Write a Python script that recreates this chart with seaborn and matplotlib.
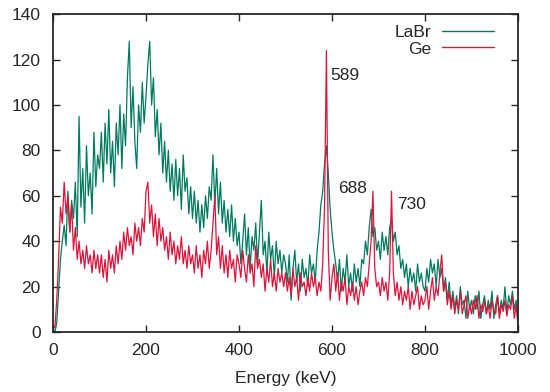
import numpy as np
import pandas as pd
import matplotlib
matplotlib.use("Agg")
import matplotlib.pyplot as plt
import seaborn as sns

# energy grid (keV), 4 keV bins
energy = np.arange(0, 1001, 4)

# LaBr spectrum, counts (100 keV per row)
labr = [
    1, 0, 4, 18, 32, 40, 47, 38, 62, 44, 58, 50, 66, 42, 95, 55, 72, 48, 82, 60, 70, 52, 88, 64, 78,
    72, 88, 66, 92, 74, 98, 70, 84, 64, 92, 78, 100, 72, 96, 82, 112, 128, 90, 108, 84, 72, 100, 88, 110, 92,
    104, 118, 128, 100, 112, 86, 98, 78, 92, 70, 84, 66, 80, 62, 74, 58, 76, 60, 72, 54, 78, 62, 68, 52, 64,
    50, 62, 48, 58, 44, 56, 46, 60, 50, 64, 58, 78, 56, 72, 52, 66, 48, 58, 44, 54, 42, 56, 40, 50, 38,
    44, 30, 40, 52, 34, 46, 28, 42, 36, 48, 30, 44, 58, 34, 40, 26, 44, 32, 38, 24, 40, 30, 36, 26, 34,
    30, 22, 34, 14, 28, 36, 22, 30, 18, 32, 24, 28, 20, 34, 26, 30, 22, 36, 44, 56, 62, 74, 82, 70, 54,
    44, 36, 30, 22, 32, 18, 28, 22, 34, 20, 26, 18, 30, 22, 28, 20, 32, 30, 40, 34, 46, 54, 42, 46, 36,
    40, 32, 44, 36, 42, 34, 46, 50, 40, 44, 34, 38, 28, 32, 24, 30, 20, 28, 22, 26, 18, 30, 22, 26, 20,
    18, 28, 22, 32, 26, 30, 20, 32, 24, 28, 18, 24, 14, 22, 12, 18, 10, 16, 8, 20, 12, 14, 6, 18, 10,
    14, 8, 16, 10, 18, 6, 12, 16, 8, 14, 10, 18, 6, 12, 16, 8, 14, 10, 20, 8, 16, 12, 18, 10, 14,
    2,
]

# Ge spectrum
ge = [
    3, 2, 14, 32, 55, 48, 66, 52, 60, 44, 56, 36, 46, 32, 40, 30, 36, 28, 38, 30, 34, 26, 36, 28, 34,
    26, 34, 24, 32, 22, 36, 28, 34, 26, 38, 30, 40, 32, 44, 36, 46, 38, 42, 34, 48, 40, 46, 38, 50, 44,
    62, 66, 48, 56, 42, 52, 38, 50, 40, 46, 36, 42, 32, 44, 34, 40, 30, 38, 32, 42, 30, 36, 28, 38, 30,
    34, 26, 38, 28, 34, 24, 36, 30, 40, 28, 36, 48, 60, 34, 42, 28, 38, 26, 34, 24, 36, 28, 32, 22, 34,
    30, 24, 36, 28, 22, 34, 26, 30, 20, 38, 28, 32, 24, 30, 18, 28, 22, 32, 20, 26, 18, 28, 22, 26, 20,
    26, 18, 24, 16, 28, 20, 24, 14, 26, 20, 22, 16, 24, 18, 26, 20, 24, 16, 22, 18, 30, 56, 124, 36, 14,
    24, 30, 18, 26, 14, 22, 18, 24, 12, 20, 16, 22, 14, 20, 12, 18, 22, 16, 24, 20, 30, 40, 62, 28, 20,
    22, 16, 24, 18, 22, 14, 26, 62, 26, 16, 22, 14, 20, 12, 18, 14, 20, 10, 18, 12, 16, 20, 10, 16, 12,
    14, 20, 10, 18, 24, 14, 20, 16, 26, 34, 18, 22, 12, 18, 10, 16, 8, 14, 10, 18, 8, 12, 16, 6, 12,
    8, 14, 10, 16, 6, 12, 9, 14, 8, 12, 6, 14, 10, 8, 16, 6, 12, 9, 14, 7, 12, 10, 16, 6, 12,
    4,
]

peak_labels = ["589", "688", "730"]
peak_text_pos = [(596, 113, "left"), (675, 63, "right"), (740, 56, "left")]

df = pd.DataFrame({
    "Energy (keV)": np.concatenate([energy, energy]),
    "counts": labr + ge,
    "det": ["LaBr"] * len(labr) + ["Ge"] * len(ge),
})

sns.set_style("ticks")
plt.rcParams["font.family"] = ["Liberation Sans", "DejaVu Sans"]
fs = 12.5

fig = plt.figure(figsize=(5.5, 3.92), dpi=100)
ax = fig.add_axes([0.0964, 0.153, 0.8454, 0.811])

sns.lineplot(data=df, x="Energy (keV)", y="counts", hue="det",
             palette={"LaBr": "#007a5e", "Ge": "#dc143c"},
             linewidth=0.9, ax=ax, estimator=None, sort=False)

for lab, (x, y, ha) in zip(peak_labels, peak_text_pos):
    ax.text(x, y, lab, ha=ha, va="center", fontsize=fs)

ax.set_xlim(0, 1000)
ax.set_ylim(0, 140)
ax.set_xticks(range(0, 1001, 200))
ax.set_yticks(range(0, 141, 20))
ax.set_ylabel("")
ax.set_xlabel("Energy (keV)", fontsize=fs, labelpad=9)
ax.tick_params(direction="in", length=5, width=1, top=True, right=True, labelsize=fs)
ax.tick_params(axis="x", pad=8)
ax.tick_params(axis="y", pad=9)
for s in ax.spines.values():
    s.set_linewidth(1.3)
    s.set_visible(True)

leg = ax.legend(frameon=False, markerfirst=False, loc="upper right",
                bbox_to_anchor=(0.97, 1.0), handlelength=3.0, handletextpad=0.6,
                labelspacing=0.1, fontsize=fs, borderaxespad=0.2)
for h in leg.legend_handles:
    h.set_linewidth(1.0)

fig.savefig("out.png", dpi=100)
